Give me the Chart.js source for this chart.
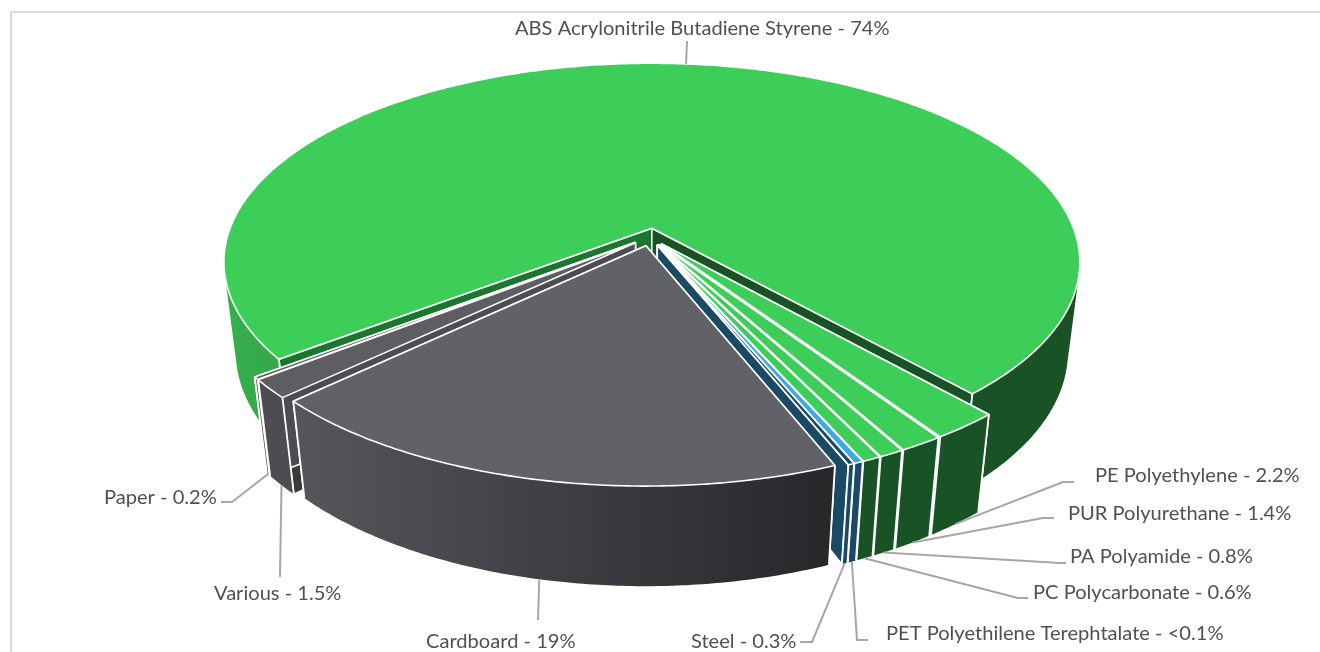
<!DOCTYPE html>
<html>
<head>
<meta charset="utf-8">
<script src="https://cdn.jsdelivr.net/npm/chart.js@4"></script>
<style>
html, body { margin: 0; padding: 0; background: #fff; overflow: hidden; }
#frame { position: absolute; left: 10px; top: 11px; width: 1320px; height: 660px; border-left: 2px solid #d9d9d9; border-top: 2px solid #d9d9d9; }
#materials { position: absolute; left: 0; top: 0; }
</style>
</head>
<body>
<div id="frame"></div>
<canvas id="materials" width="1320" height="652"></canvas>
<script>
const categories = ['ABS Acrylonitrile Butadiene Styrene', 'PE Polyethylene', 'PUR Polyurethane', 'PA Polyamide', 'PC Polycarbonate', 'PET Polyethilene Terephtalate', 'Steel', 'Cardboard', 'Various', 'Paper'];
// wedge sizes as drawn in the picture, the labels carry the rounded figures
const shares = [74.4, 2.2, 1.4, 0.8, 0.6, 0.3, 0.2, 19.1, 1.5, 0.2];
const shareLabels = ['74%', '2.2%', '1.4%', '0.8%', '0.6%', '<0.1%', '0.3%', '19%', '1.5%', '0.2%'];

const topColors = ['#3dce5a', '#3dce5a', '#3dce5a', '#3dce5a', '#3dce5a', '#3ba9e2', '#1b4a66', '#616267', '#5d5d62', '#5d5d62'];
const wallColors = ['#195224', '#195224', '#195224', '#195224', '#195224', '#1b4a66', '#1b4a66', '#2a2a2d', '#4c4c51', '#4c4c51'];
const startWallColors = ['#1b772e', '#195224', '#195224', '#195224', '#195224', '#1b4a66', '#1b4a66', '#58585d', '#3a3a3d', '#3a3a3d'];

// where the callouts sit on the page: text x, text y, then the bend and the end of the leader
const textX = [515, 1095, 1068, 1070, 1033, 886, 691, 426, 214, 104];
const textY = [29, 476, 514, 557, 593, 634, 642, 642, 594, 498];
const bends = [[687, 41], [1063, 482], [1043, 518], [1060, 563], [1018, 598], [857, 640], [812, 642], [538, 620], [280, 577], [232, 502]];
const ends = [[687, 41], [1074, 482], [1054, 518], [1066, 563], [1028, 598], [868, 640], [800, 642], [538, 620], [280, 577], [221, 502]];

// perspective of the disc, relative to the arc radius
const spreadX = 2.125, spreadY = 0.98, depth = 0.46, tilt = 0.171, taper = 0.028, explode = 0.045;

function project(el, u, v, d) {
    const w = 1 - tilt * v + taper * d;
    return {
        x: el.x + el.outerRadius * spreadX * u / w,
        y: el.y + el.outerRadius * (spreadY * v + depth * d) / w
    };
}

function slicePoint(el, angle, radius, d) {
    const mid = (el.startAngle + el.endAngle) / 2;
    return project(el, explode * Math.cos(mid) + radius * Math.cos(angle), explode * Math.sin(mid) + radius * Math.sin(angle), d);
}

function addPoints(ctx, pts) {
    pts.forEach((p, i) => i ? ctx.lineTo(p.x, p.y) : ctx.moveTo(p.x, p.y));
}

function fillPath(ctx, pts, fill) {
    ctx.beginPath();
    addPoints(ctx, pts);
    ctx.closePath();
    ctx.fillStyle = fill;
    ctx.fill();
    ctx.lineWidth = 1.6;
    ctx.strokeStyle = '#fff';
    ctx.lineJoin = 'round';
    ctx.stroke();
}

function rimPoints(el, d) {
    const pts = [];
    const steps = Math.max(2, Math.ceil((el.endAngle - el.startAngle) / 0.01));
    for (let s = 0; s <= steps; s++) {
        pts.push(slicePoint(el, el.startAngle + (el.endAngle - el.startAngle) * s / steps, 1, d));
    }
    return pts;
}

function rimFill(ctx, i) {
    if (i === 0) {
        const g = ctx.createLinearGradient(224, 0, 972, 0);
        g.addColorStop(0, '#37af4c');
        g.addColorStop(0.08, '#33a849');
        g.addColorStop(0.5, '#195224');
        return g;
    }
    if (i === 7) {
        const g = ctx.createLinearGradient(290, 0, 838, 0);
        g.addColorStop(0, '#56565b');
        g.addColorStop(1, '#27272a');
        return g;
    }
    return wallColors[i];
}

function drawRim(ctx, i, top, low) {
    // one quad per step in one path, all wound the same way so the fold of the disc stays filled
    ctx.beginPath();
    for (let s = 0; s < top.length - 1; s++) {
        const quad = [top[s], top[s + 1], low[s + 1], low[s]];
        let area = 0;
        quad.forEach((p, n) => {
            const q = quad[(n + 1) % 4];
            area += p.x * q.y - q.x * p.y;
        });
        if (area < 0) quad.reverse();
        addPoints(ctx, quad);
        ctx.closePath();
    }
    ctx.fillStyle = rimFill(ctx, i);
    ctx.fill();
    ctx.strokeStyle = '#fff';
    ctx.lineWidth = 1.8;
    [0, top.length - 1].forEach(s => {
        ctx.beginPath();
        addPoints(ctx, [top[s], low[s]]);
        ctx.stroke();
    });
}

const pie3d = {
    id: 'pie3d',
    beforeDatasetsDraw(chart) {
        const ctx = chart.ctx;
        const arcs = chart.getDatasetMeta(0).data;
        const order = arcs.map((el, i) => i).sort((a, b) =>
            Math.sin((arcs[a].startAngle + arcs[a].endAngle) / 2) - Math.sin((arcs[b].startAngle + arcs[b].endAngle) / 2));
        order.forEach(i => {
            const el = arcs[i];
            const apex = slicePoint(el, 0, 0, 0), apexLow = slicePoint(el, 0, 0, 1);
            const top = rimPoints(el, 0), low = rimPoints(el, 1);
            // side walls first, the top face covers whatever is hidden
            fillPath(ctx, [apex, top[0], low[0], apexLow], startWallColors[i]);
            fillPath(ctx, [apex, top[top.length - 1], low[low.length - 1], apexLow], wallColors[i]);
            drawRim(ctx, i, top, low);
            fillPath(ctx, [apex].concat(top), topColors[i]);
        });
        return false;
    },
    afterDraw(chart) {
        const ctx = chart.ctx;
        const arcs = chart.getDatasetMeta(0).data;
        ctx.strokeStyle = '#a6a6a6';
        ctx.lineWidth = 2;
        arcs.forEach((el, i) => {
            const mid = (el.startAngle + el.endAngle) / 2;
            const from = slicePoint(el, mid, 1, i === 0 ? 0 : 1);
            ctx.beginPath();
            ctx.moveTo(from.x, from.y);
            ctx.lineTo(bends[i][0], bends[i][1]);
            ctx.lineTo(ends[i][0], ends[i][1]);
            ctx.stroke();
        });
        ctx.fillStyle = '#505050';
        ctx.font = '20.1px Lato, "Open Sans", sans-serif';
        ctx.textAlign = 'left';
        ctx.textBaseline = 'middle';
        categories.forEach((name, i) => {
            ctx.fillText(name + ' - ' + shareLabels[i], textX[i], textY[i]);
        });
    }
};

new Chart(document.getElementById('materials'), {
    type: 'pie',
    data: {
        labels: categories,
        datasets: [{ data: shares, backgroundColor: topColors, borderWidth: 0 }]
    },
    options: {
        responsive: false,
        animation: false,
        rotation: 232.5,
        layout: { padding: { left: 0, right: 20, top: 37, bottom: 215 } },
        plugins: { legend: { display: false }, tooltip: { enabled: false } }
    },
    plugins: [pie3d]
});
</script>
</body>
</html>
